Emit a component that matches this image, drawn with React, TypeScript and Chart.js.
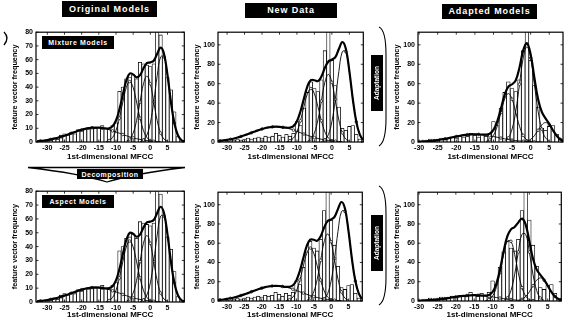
import React, { useEffect, useRef } from "react";
import { Chart, registerables } from "chart.js";

Chart.register(...registerables);

// ---------------- data ----------------
const binCenters = [-33, -32, -31, -30, -29, -28, -27, -26, -25, -24, -23, -22, -21, -20, -19, -18, -17, -16, -15, -14, -13, -12, -11, -10, -9, -8, -7, -6, -5, -4, -3, -2, -1, 0, 1, 2, 3, 4, 5, 6, 7, 8, 9];

const originalDataHist = [0, 0.5, 1, 1, 1, 3, 2, 5, 6, 5, 7, 6, 9, 8, 10, 9, 11, 10, 11, 12, 10, 9, 12, 14, 37, 40, 46, 47, 49, 46, 58, 57, 56, 55, 57, 86, 78, 62, 47, 38, 22, 4, 0.5];
const newDataHist = [0, 0, 0, 0.5, 1, 2, 3, 2, 3, 4, 3, 4, 5, 4, 6, 5, 6, 9, 7, 5, 8, 6, 9, 21, 17, 35, 51, 62, 55, 52, 64, 94, 125, 84, 58, 36, 14, 12, 16, 17, 8, 3, 0.5];

const xTickValues = [-30, -25, -20, -15, -10, -5, 0, 5];
const yTicksOriginal = [0, 10, 20, 30, 40, 50, 60, 70, 80];
const yTicksNew = [0, 20, 40, 60, 80, 100];

// original-data models (start = x of first value, step 1)
const origTotalStart = -33;
const origTotal = [0.55, 0.77, 1.06, 1.42, 1.87, 2.42, 3.05, 3.79, 4.59, 5.47, 6.37, 7.27, 8.14, 8.92, 9.58, 10.08, 10.4, 10.5, 10.4, 10.08, 9.86, 9.99, 11.44, 15.67, 23.77, 34.57, 44.82, 49.89, 49.25, 47.12, 48.7, 53.68, 57.46, 58.04, 59.23, 64.29, 68.77, 64.1, 48.83, 29.3, 13.8, 5.1, 1.46, 0.33];
const origComp1Start = -33;
const origComp1 = [0.55, 0.77, 1.06, 1.42, 1.87, 2.42, 3.05, 3.79, 4.59, 5.47, 6.37, 7.27, 8.14, 8.92, 9.58, 10.08, 10.4, 10.5, 10.4, 10.08, 9.58, 8.92, 8.14, 7.27, 6.37, 5.47, 4.59, 3.79, 3.05, 2.42, 1.87, 1.42, 1.06, 0.77, 0.55, 0.39, 0.27];
const origComp2Start = -13;
const origComp2 = [0.28, 1.07, 3.3, 8.4, 17.4, 29.1, 39.7, 44, 39.7, 29.1, 17.4, 8.4, 3.3, 1.07, 0.28];
const origComp3Start = -7;
const origComp3 = [0.53, 2.1, 6.5, 15.6, 29.1, 42.4, 48, 42.4, 29.1, 15.6, 6.5, 2.1, 0.53];
const origComp4Start = -3;
const origComp4 = [0.33, 1.46, 5.1, 13.8, 29.3, 48.3, 62, 62, 48.3, 29.3, 13.8, 5.1, 1.46, 0.33];

// original models over new data
const newTotalStart = -33;
const newTotal = [0.83, 1.16, 1.59, 2.13, 2.81, 3.63, 4.58, 5.69, 6.89, 8.21, 9.56, 10.9, 12.2, 13.4, 14.4, 15.1, 15.6, 15.75, 15.6, 15.1, 14.75, 14.74, 16.3, 21.4, 31.36, 44.61, 57.26, 63.69, 63.58, 62.63, 67.31, 76.33, 82.94, 84.7, 87.38, 95.68, 102.81, 96, 73.27, 44, 20.7, 7.65, 2.2, 0.5];
const newComp1Start = -33;
const newComp1 = [0.83, 1.16, 1.59, 2.13, 2.81, 3.63, 4.58, 5.69, 6.89, 8.21, 9.56, 10.9, 12.2, 13.4, 14.4, 15.1, 15.6, 15.75, 15.6, 15.1, 14.4, 13.4, 12.2, 10.9, 9.56, 8.21, 6.89, 5.69, 4.58, 3.63, 2.81, 2.13, 1.59, 1.16, 0.83, 0.58, 0.41];
const newComp2Start = -13;
const newComp2 = [0.35, 1.34, 4.1, 10.5, 21.8, 36.4, 49.6, 55, 49.6, 36.4, 21.8, 10.5, 4.1, 1.34, 0.35];
const newComp3Start = -7;
const newComp3 = [0.77, 3.0, 9.4, 22.6, 42.2, 61.5, 69.6, 61.5, 42.2, 22.6, 9.4, 3.0, 0.77];
const newComp4Start = -3;
const newComp4 = [0.5, 2.2, 7.65, 20.7, 44, 72.5, 93, 93, 72.5, 44, 20.7, 7.65, 2.2, 0.5];

// adapted mixture models
const adaptTotalStart = -33;
const adaptTotal = [0.09, 0.14, 0.23, 0.35, 0.53, 0.77, 1.08, 1.49, 1.99, 2.6, 3.29, 4.05, 4.86, 5.66, 6.41, 7.06, 7.57, 7.89, 8, 7.89, 7.57, 7.62, 8.61, 12.43, 21.06, 34.35, 48.48, 56.9, 59.39, 63.59, 76.68, 94.26, 101.61, 90.12, 66.12, 44.04, 31.04, 24.3, 18.74, 12.1, 6.49, 2.71, 0.88, 0.22];
const adaptComp1Start = -33;
const adaptComp1 = [0.09, 0.14, 0.23, 0.35, 0.53, 0.77, 1.08, 1.49, 1.99, 2.6, 3.29, 4.05, 4.86, 5.66, 6.41, 7.06, 7.57, 7.89, 8, 7.89, 7.57, 7.06, 6.41, 5.66, 4.86, 4.05, 3.29, 2.6, 1.99, 1.49, 1.08, 0.77, 0.53, 0.35, 0.23, 0.14, 0.09];
const adaptComp2Start = -12;
const adaptComp2 = [0.56, 2.2, 6.77, 16.2, 30.3, 44.1, 50, 44.1, 30.3, 16.2, 6.77, 2.2, 0.56];
const adaptComp3Start = -7;
const adaptComp3 = [1.09, 4.3, 13.3, 31.8, 59.4, 86.5, 98, 86.5, 59.4, 31.8, 13.3, 4.3, 1.09];
const adaptComp4Start = -2;
const adaptComp4 = [0.22, 0.88, 2.71, 6.49, 12.1, 17.65, 20, 17.65, 12.1, 6.49, 2.71, 0.88, 0.22];

// adapted aspect models
const aspAdaptTotalStart = -33;
const aspAdaptTotal = [0.07, 0.11, 0.17, 0.26, 0.4, 0.58, 0.81, 1.12, 1.49, 1.95, 2.47, 3.04, 3.64, 4.24, 4.81, 5.29, 5.68, 5.92, 6, 5.92, 5.68, 5.62, 6.27, 9.34, 17.54, 32.34, 51.55, 67.1, 74.4, 76.9, 81.6, 85.6, 79.4, 62.1, 43.8, 32.6, 27.2, 22.3, 15.9, 9.5, 4.6, 1.81, 0.58];
const aspAdaptComp1Start = -33;
const aspAdaptComp1 = [0.07, 0.11, 0.17, 0.26, 0.4, 0.58, 0.81, 1.12, 1.49, 1.95, 2.47, 3.04, 3.64, 4.24, 4.81, 5.29, 5.68, 5.92, 6, 5.92, 5.68, 5.29, 4.81, 4.24, 3.64, 3.04, 2.47, 1.95, 1.49, 1.12, 0.81, 0.58, 0.4, 0.26, 0.17, 0.11, 0.07];
const aspAdaptComp2Start = -12;
const aspAdaptComp2 = [0.33, 1.46, 5.1, 13.9, 29.3, 48.4, 62, 62, 48.4, 29.3, 13.9, 5.1, 1.46, 0.33];
const aspAdaptComp3Start = -7;
const aspAdaptComp3 = [0.68, 3.17, 10.9, 27.4, 50.9, 69.3, 69.3, 50.9, 27.4, 10.9, 3.17, 0.68];
const aspAdaptComp4Start = -3;
const aspAdaptComp4 = [0.58, 1.81, 4.6, 9.5, 15.9, 21.6, 24, 21.6, 15.9, 9.5, 4.6, 1.81, 0.58];

type Curve = { start: number; values: number[] };

const origCurves = {
  total: { start: origTotalStart, values: origTotal },
  comps: [
    { start: origComp1Start, values: origComp1 },
    { start: origComp2Start, values: origComp2 },
    { start: origComp3Start, values: origComp3 },
    { start: origComp4Start, values: origComp4 },
  ],
};
const newCurves = {
  total: { start: newTotalStart, values: newTotal },
  comps: [
    { start: newComp1Start, values: newComp1 },
    { start: newComp2Start, values: newComp2 },
    { start: newComp3Start, values: newComp3 },
    { start: newComp4Start, values: newComp4 },
  ],
};
const adaptCurves = {
  total: { start: adaptTotalStart, values: adaptTotal },
  comps: [
    { start: adaptComp1Start, values: adaptComp1 },
    { start: adaptComp2Start, values: adaptComp2 },
    { start: adaptComp3Start, values: adaptComp3 },
    { start: adaptComp4Start, values: adaptComp4 },
  ],
};
const aspAdaptCurves = {
  total: { start: aspAdaptTotalStart, values: aspAdaptTotal },
  comps: [
    { start: aspAdaptComp1Start, values: aspAdaptComp1 },
    { start: aspAdaptComp2Start, values: aspAdaptComp2 },
    { start: aspAdaptComp3Start, values: aspAdaptComp3 },
    { start: aspAdaptComp4Start, values: aspAdaptComp4 },
  ],
};

// ---------------- layout ----------------
type Panel = {
  left: number; top: number; width: number; height: number;
  yAxisW: number; xAxisH: number; padTop: number; padRight: number;
  xMin: number; xMax: number; yMax: number; yTicks: number[];
  hist: number[]; curves: { total: Curve; comps: Curve[] };
};

const panels: Panel[] = [
  { left: 8, top: 25, width: 181, height: 139, yAxisW: 28, xAxisH: 22, padTop: 4, padRight: 4, xMin: -33.3, xMax: 9.9, yMax: 80, yTicks: yTicksOriginal, hist: originalDataHist, curves: origCurves },
  { left: 190, top: 25, width: 178, height: 139, yAxisW: 28, xAxisH: 22, padTop: 4, padRight: 4, xMin: -32.6, xMax: 9.0, yMax: 113, yTicks: yTicksNew, hist: newDataHist, curves: newCurves },
  { left: 390, top: 25, width: 177, height: 139, yAxisW: 28, xAxisH: 22, padTop: 4, padRight: 4, xMin: -30.3, xMax: 8.7, yMax: 113, yTicks: yTicksNew, hist: newDataHist, curves: adaptCurves },
  { left: 8, top: 184, width: 181, height: 138, yAxisW: 28, xAxisH: 20, padTop: 4, padRight: 4, xMin: -33.3, xMax: 9.9, yMax: 80, yTicks: yTicksOriginal, hist: originalDataHist, curves: origCurves },
  { left: 190, top: 185, width: 177, height: 137, yAxisW: 28, xAxisH: 21, padTop: 4, padRight: 4, xMin: -32.6, xMax: 9.0, yMax: 113, yTicks: yTicksNew, hist: newDataHist, curves: newCurves },
  { left: 390, top: 185, width: 176, height: 137, yAxisW: 28, xAxisH: 21, padTop: 4, padRight: 4, xMin: -30.3, xMax: 8.7, yMax: 113, yTicks: yTicksNew, hist: newDataHist, curves: aspAdaptCurves },
];

const FONT = '"Liberation Sans", Arial, sans-serif';

const boxTicksPlugin = {
  id: "boxTicks",
  afterDatasetsDraw(chart: any) {
    const { ctx, chartArea: a, scales } = chart;
    ctx.save();
    ctx.strokeStyle = "#000";
    ctx.lineWidth = 1.2;
    ctx.strokeRect(a.left, a.top, a.right - a.left, a.bottom - a.top);
    ctx.lineWidth = 0.8;
    const tl = 2.5;
    ctx.beginPath();
    scales.x.ticks.forEach((t: any) => {
      const px = scales.x.getPixelForValue(t.value);
      ctx.moveTo(px, a.bottom);
      ctx.lineTo(px, a.bottom - tl);
      ctx.moveTo(px, a.top);
      ctx.lineTo(px, a.top + tl);
    });
    scales.y.ticks.forEach((t: any) => {
      const py = scales.y.getPixelForValue(t.value);
      ctx.moveTo(a.left, py);
      ctx.lineTo(a.left + tl, py);
      ctx.moveTo(a.right, py);
      ctx.lineTo(a.right - tl, py);
    });
    ctx.stroke();
    ctx.restore();
  },
};

function toPoints(c: Curve) {
  return c.values.map((y, i) => ({ x: c.start + i, y }));
}

function buildChart(canvas: HTMLCanvasElement, p: Panel) {
  const datasets: any[] = [];
  datasets.push({
    type: "line", data: toPoints(p.curves.total), borderColor: "#000", borderWidth: 2.2,
    pointRadius: 0, tension: 0.4, fill: false, order: 0,
  });
  p.curves.comps.forEach((c) =>
    datasets.push({
      type: "line", data: toPoints(c), borderColor: "#000", borderWidth: 0.9,
      pointRadius: (ctx: any) => (ctx.dataIndex % 3 === 1 ? 1.3 : 0),
      pointBackgroundColor: "#fff", pointBorderColor: "#000", pointBorderWidth: 0.7,
      tension: 0.4, fill: false, order: 1,
    })
  );
  datasets.push({
    type: "bar", data: binCenters.map((x, i) => ({ x, y: p.hist[i] })),
    backgroundColor: "#fff", borderColor: "#000", borderWidth: 0.8,
    barPercentage: 1, categoryPercentage: 1, order: 2,
  });

  return new Chart(canvas, {
    type: "bar",
    data: { datasets },
    plugins: [boxTicksPlugin],
    options: {
      animation: false,
      responsive: false,
      maintainAspectRatio: false,
      devicePixelRatio: 1,
      events: [],
      layout: { padding: { top: p.padTop, right: p.padRight, left: 0, bottom: 0 } },
      plugins: { legend: { display: false }, tooltip: { enabled: false } },
      scales: {
        x: {
          type: "linear", min: p.xMin, max: p.xMax, offset: false,
          grid: { display: false, drawTicks: false }, border: { display: false },
          afterBuildTicks: (s: any) => { s.ticks = xTickValues.map((v) => ({ value: v })); },
          afterFit: (s: any) => { s.height = p.xAxisH; },
          ticks: { font: { size: 7, weight: "bold", family: FONT }, color: "#000", padding: 2, maxRotation: 0, autoSkip: false },
          title: { display: true, text: "1st-dimensional MFCC", font: { size: 8, weight: "bold", family: FONT }, color: "#000", padding: { top: 0, bottom: 2 } },
        },
        y: {
          type: "linear", min: 0, max: p.yMax,
          grid: { display: false, drawTicks: false }, border: { display: false },
          afterBuildTicks: (s: any) => { s.ticks = p.yTicks.map((v) => ({ value: v })); },
          afterFit: (s: any) => { s.width = p.yAxisW; },
          ticks: { font: { size: 7, weight: "bold", family: FONT }, color: "#000", padding: 3 },
          title: { display: true, text: "feature vector frequency", font: { size: 7.3, weight: "bold", family: FONT }, color: "#000", padding: { top: 3, bottom: 0 } },
        },
      },
    } as any,
  });
}

function BlackBox(props: { text: string; left: number; top: number; width: number; height: number; size: number; spacing?: number }) {
  return (
    <div
      style={{
        position: "absolute", left: props.left, top: props.top, width: props.width, height: props.height,
        background: "#000", color: "#fff", display: "flex", alignItems: "center", justifyContent: "center",
        whiteSpace: "nowrap", fontSize: props.size, fontWeight: "bold", letterSpacing: props.spacing ?? 0,
        fontFamily: FONT, lineHeight: 1,
      }}
    >
      {props.text}
    </div>
  );
}

function VerticalBox(props: { text: string; left: number; top: number; width: number; height: number }) {
  return (
    <div
      style={{
        position: "absolute", left: props.left, top: props.top, width: props.width, height: props.height,
        background: "#000", color: "#fff", display: "flex", alignItems: "center", justifyContent: "center",
        fontFamily: FONT, fontSize: 6.5, fontWeight: "bold", overflow: "hidden",
      }}
    >
      <span style={{ writingMode: "vertical-rl", transform: "rotate(180deg)", whiteSpace: "nowrap", lineHeight: 1 }}>{props.text}</span>
    </div>
  );
}

export default function App() {
  const refs = useRef<(HTMLCanvasElement | null)[]>([]);

  useEffect(() => {
    const charts = panels.map((p, i) => buildChart(refs.current[i] as HTMLCanvasElement, p));
    return () => charts.forEach((c) => c.destroy());
  }, []);

  return (
    <div
      style={{
        position: "absolute", left: 0, top: 0, width: 574, height: 323, background: "#fff",
        overflow: "hidden", fontFamily: FONT,
      }}
    >
      {panels.map((p, i) => (
        <canvas
          key={i}
          ref={(el) => { refs.current[i] = el; }}
          width={p.width}
          height={p.height}
          style={{ position: "absolute", left: p.left, top: p.top, width: p.width, height: p.height }}
        />
      ))}

      <svg width={574} height={323} style={{ position: "absolute", left: 0, top: 0, pointerEvents: "none" }}>
        <path d="M28,167.5 L185,167.5 C160,170.5 126,176 107,182 C88,176 54,170.5 28,167.5 Z" fill="#fff" stroke="#000" strokeWidth={1.3} />
        <path d="M379,27 Q386,30 386,55 L386,118 Q386,142 379,146" fill="none" stroke="#000" strokeWidth={1.1} />
        <path d="M379,186 Q386,189 386,214 L386,277 Q386,301 379,305" fill="none" stroke="#000" strokeWidth={1.1} />
        <path d="M4,32 Q10,38 4,45" fill="none" stroke="#000" strokeWidth={1.3} />
      </svg>

      <BlackBox text="Original Models" left={62} top={1} width={95} height={16} size={9} spacing={0.9} />
      <BlackBox text="New Data" left={245} top={3} width={92} height={15} size={9} spacing={0.9} />
      <BlackBox text="Adapted Models" left={442} top={4} width={95} height={15} size={9} spacing={0.9} />
      <BlackBox text="Mixture Models" left={42} top={36} width={72} height={13} size={7} spacing={0.6} />
      <BlackBox text="Aspect Models" left={42} top={195} width={72} height={13} size={7} spacing={0.6} />
      <BlackBox text="Decomposition" left={77} top={169} width={66} height={10} size={7} spacing={0.5} />
      <VerticalBox text="Adaptation" left={371} top={55} width={12} height={56} />
      <VerticalBox text="Adaptation" left={371} top={215} width={12} height={56} />
    </div>
  );
}
